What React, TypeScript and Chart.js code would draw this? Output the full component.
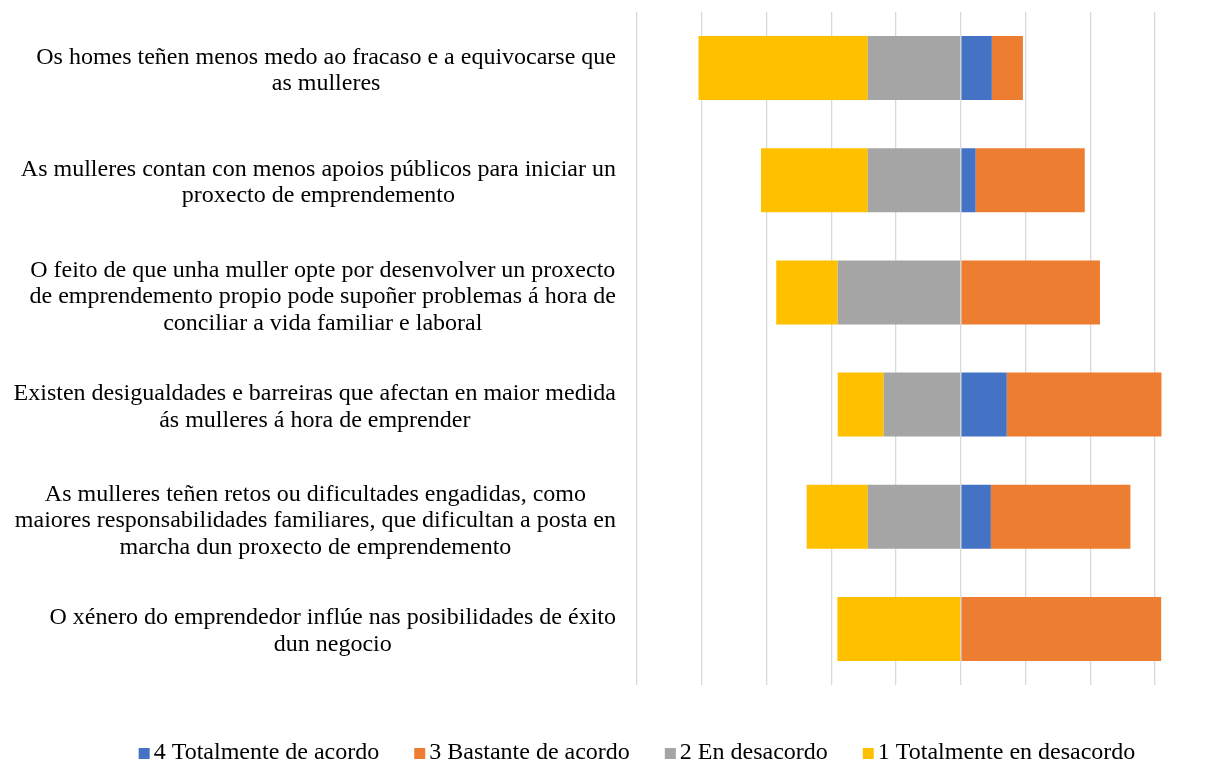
import React, { useEffect, useRef } from "react";
import { Chart, registerables } from "chart.js";

Chart.register(...registerables);

const categories: string[][] = [
  ["Os homes teñen menos medo ao fracaso e a equivocarse que", "as mulleres"],
  ["As mulleres contan con menos apoios públicos para iniciar un", "proxecto de emprendemento"],
  [
    "O feito de que unha muller opte por desenvolver un proxecto",
    "de emprendemento propio pode supoñer problemas á hora de",
    "conciliar a vida familiar e laboral",
  ],
  ["Existen desigualdades e barreiras que afectan en maior medida", "ás mulleres á hora de emprender"],
  [
    "As mulleres teñen retos ou dificultades engadidas, como",
    "maiores responsabilidades familiares, que dificultan a posta en",
    "marcha dun proxecto de emprendemento",
  ],
  ["O xénero do emprendedor inflúe nas posibilidades de éxito", "dun negocio"],
];

const totalmenteDeAcordo = [9.6, 4.6, 0, 14.2, 9.3, 0];
const bastanteDeAcordo = [9.6, 33.7, 43.0, 47.8, 43.1, 61.9];
const enDesacordo = [28.7, 28.7, 38.0, 23.8, 28.7, 0];
const totalmenteEnDesacordo = [52.3, 33.0, 19.0, 14.2, 18.9, 38.1];

const seriesNames = [
  "4 Totalmente de acordo",
  "3 Bastante de acordo",
  "2 En desacordo",
  "1 Totalmente en desacordo",
];
const seriesColors = ["#4472C4", "#ED7D31", "#A5A5A5", "#FFC000"];

const SERIF = '"Liberation Serif", "Times New Roman", serif';
const LABEL_SIZE = 24;
const LABEL_LINE = 26.5;
const LEGEND_SIZE = 24;

const wrappedLabels = {
  id: "wrappedLabels",
  afterDraw(chart: any) {
    const ctx = chart.ctx as CanvasRenderingContext2D;
    const yScale = chart.scales.y;
    const right = chart.chartArea.left - 21;
    ctx.save();
    ctx.font = `${LABEL_SIZE}px ${SERIF}`;
    ctx.fillStyle = "#000000";
    ctx.textBaseline = "alphabetic";
    ctx.textAlign = "center";
    categories.forEach((lines, i) => {
      const n = lines.length;
      const cy = yScale.getPixelForValue(i) + (n === 3 ? 3 : 1);
      const w = Math.max(...lines.map((l) => ctx.measureText(l).width));
      const cx = right - w / 2;
      lines.forEach((l, j) => {
        ctx.fillText(l, cx, cy + (j - (n - 1) / 2) * LABEL_LINE + 7.7);
      });
    });
    ctx.restore();
  },
};

const bottomLegend = {
  id: "bottomLegend",
  afterDraw(chart: any) {
    const ctx = chart.ctx as CanvasRenderingContext2D;
    const box = 11;
    const gapBoxText = 4;
    const gapItems = 35;
    const baseline = 759;
    ctx.save();
    ctx.font = `${LEGEND_SIZE}px ${SERIF}`;
    ctx.textBaseline = "alphabetic";
    ctx.textAlign = "left";
    const items = chart.data.datasets.map((d: any) => ({
      label: d.label as string,
      color: d.backgroundColor as string,
      w: ctx.measureText(d.label).width,
    }));
    const total =
      items.reduce((s: number, it: any) => s + box + gapBoxText + it.w, 0) +
      gapItems * (items.length - 1);
    let x = 637 - total / 2;
    items.forEach((it: any) => {
      ctx.fillStyle = it.color;
      ctx.fillRect(x, baseline - box, box, box);
      x += box + gapBoxText;
      ctx.fillStyle = "#000000";
      ctx.fillText(it.label, x, baseline);
      x += it.w + gapItems;
    });
    ctx.restore();
  },
};

export default function App() {
  const ref = useRef<HTMLCanvasElement | null>(null);

  useEffect(() => {
    document.body.style.margin = "0";
    const canvas = ref.current;
    if (!canvas) return;
    const chart = new Chart(canvas, {
      type: "bar",
      data: {
        labels: categories.map((l) => l.join(" ")),
        datasets: [
          { label: seriesNames[0], data: totalmenteDeAcordo, backgroundColor: seriesColors[0] },
          { label: seriesNames[1], data: bastanteDeAcordo, backgroundColor: seriesColors[1] },
          { label: seriesNames[2], data: enDesacordo.map((v) => -v), backgroundColor: seriesColors[2] },
          { label: seriesNames[3], data: totalmenteEnDesacordo.map((v) => -v), backgroundColor: seriesColors[3] },
        ],
      },
      options: {
        indexAxis: "y",
        responsive: false,
        animation: false,
        maintainAspectRatio: false,
        layout: { padding: { left: 637, right: 54, top: 12, bottom: 77 } },
        datasets: { bar: { barPercentage: 0.57, categoryPercentage: 1, borderWidth: 0, clip: false } },
        plugins: {
          legend: { display: false },
          tooltip: { enabled: true },
        },
        scales: {
          x: {
            stacked: true,
            min: -100,
            max: 60,
            ticks: { display: false, stepSize: 20 },
            grid: { color: "#D9D9D9", lineWidth: 1.3, drawTicks: false },
            border: { display: false },
          },
          y: {
            stacked: true,
            display: false,
            grid: { display: false },
          },
        },
      },
      plugins: [wrappedLabels, bottomLegend],
    });
    return () => chart.destroy();
  }, []);

  return <canvas ref={ref} width={1209} height={762} style={{ display: "block" }} />;
}
